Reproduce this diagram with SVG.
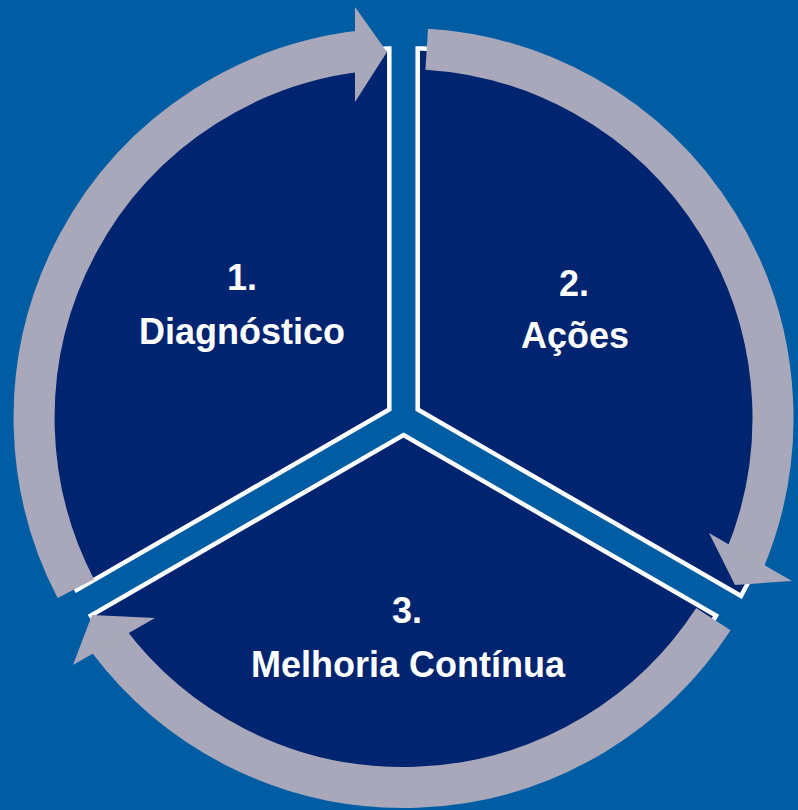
<svg xmlns="http://www.w3.org/2000/svg" width="798" height="810" viewBox="0 0 798 810">
<style>
.sector{fill:#002470;stroke:#ffffff;stroke-width:4.5;stroke-linejoin:miter}
.shaft{fill:none;stroke:#A8A8BA;stroke-width:41}
.head{fill:#A8A8BA}
.lbl{font-family:"Liberation Sans",Arial,sans-serif;font-weight:bold;font-size:36px;fill:#ffffff;text-anchor:middle}
</style>
<rect width="798" height="810" fill="#005DA4"/>
<g id="sector-1">
<path class="sector" d="M389.3,409.5 L389.3,48.5 A361 361 0 0 0 76.7,590 Z"/>
<text class="lbl" x="242" y="290">1.</text>
<text class="lbl" x="242" y="344">Diagnóstico</text>
</g>
<g id="sector-2">
<path class="sector" d="M417.7,409.5 L417.7,48.5 A367 367 0 0 1 741,596 Z"/>
<text class="lbl" x="574" y="296">2.</text>
<text class="lbl" x="575" y="348">Ações</text>
</g>
<g id="sector-3">
<path class="sector" d="M403.5,435 L716.1,615.5 A361 361 0 0 1 90.9,615.5 Z"/>
<text class="lbl" x="407" y="623">3.</text>
<text class="lbl" x="408" y="677">Melhoria Contínua</text>
</g>
<g id="connectors">
<g id="arrow-1">
<path class="shaft" d="M75.8,588.6 A369.5 369.5 0 0 1 361.7,50.9"/>
<polygon class="head" points="355,7 387,52 355,102"/>
</g>
<g id="arrow-2">
<path class="shaft" d="M426.7,49.2 A369.5 369.5 0 0 1 743.6,562.4"/>
<polygon class="head" points="709,533 735,585 792,581"/>
</g>
<g id="arrow-3">
<path class="shaft" d="M713.4,619.2 A369.5 369.5 0 0 1 108.4,640.4"/>
<polygon class="head" points="155,618 92,615 73,665"/>
</g>
</g>
</svg>
